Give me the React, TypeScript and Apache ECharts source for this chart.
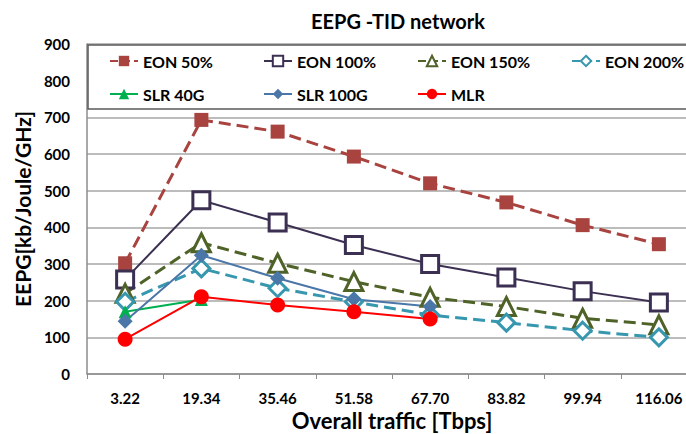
import React, { useEffect, useRef } from "react";
import * as echarts from "echarts";

const categories = ["3.22", "19.34", "35.46", "51.58", "67.70", "83.82", "99.94", "116.06"];
const eon50 = [302, 693, 661, 593, 520, 468, 406, 354];
const eon100 = [258, 474, 413, 352, 300, 263, 226, 195];
const eon150 = [220, 358, 302, 252, 209, 184, 152, 134];
const eon200 = [197, 288, 234, 197, 161, 140, 118, 100];
const slr40 = [170, 203, null, null, null, null, null, null];
const slr100 = [144, 324, 261, 204, 184, null, null, null];
const mlr = [95, 211, 188, 170, 150, null, null, null];

const FONT = "Lato";

export default function App() {
  const ref = useRef<HTMLDivElement>(null);
  useEffect(() => {
    const chart = echarts.init(ref.current!, null, { renderer: "svg" });
    const mk = (
      name: string,
      data: (number | null)[],
      color: string,
      symbol: string,
      symbolSize: number,
      lineType: string,
      lineWidth: number,
      hollow: boolean
    ) => ({
      name,
      type: "line",
      data,
      symbol,
      symbolSize,
      connectNulls: false,
      lineStyle: { color, width: lineWidth, type: lineType },
      itemStyle: hollow
        ? { color: "#ffffff", borderColor: color, borderWidth: 3 }
        : { color, borderColor: color, borderWidth: 0 },
    });
    chart.setOption({
      animation: false,
      backgroundColor: "#fff",
      title: {
        text: "EEPG -TID network",
        left: 393,
        top: 6,
        textAlign: "center",
        textStyle: { fontFamily: FONT, fontWeight: "bold", fontSize: 20, color: "#000" },
      },
      legend: {
        data: ["EON 50%", "EON 100%", "EON 150%", "EON 200%", "", "SLR 40G", "SLR 100G", "MLR"],
        left: 88,
        top: 45,
        width: 660,
        padding: [6, 14, 5, 21],
        itemGap: 13,
        itemWidth: 28,
        itemHeight: 13,
        backgroundColor: "#fff",
        borderColor: "#595959",
        borderWidth: 1.5,
        formatter: "{a|{name}}",
        textStyle: {
          fontFamily: FONT,
          fontWeight: "bold",
          fontSize: 16,
          color: "#000",
          rich: { a: { width: 107, height: 20, lineHeight: 20, fontFamily: FONT, fontWeight: "bold", fontSize: 16, color: "#000" } },
        },
      },
      grid: { left: 87, top: 44, width: 610, height: 330, containLabel: false, outerBoundsMode: "none" },
      xAxis: {
        type: "category",
        data: categories,
        boundaryGap: true,
        name: "Overall traffic [Tbps]",
        nameLocation: "middle",
        nameGap: 33,
        nameTextStyle: { fontFamily: FONT, fontWeight: "bold", fontSize: 22, color: "#000" },
        axisLine: { lineStyle: { color: "#8c8c8c", width: 1.5 } },
        axisTick: { show: true, length: 5, lineStyle: { color: "#8c8c8c" } },
        axisLabel: { fontFamily: FONT, fontWeight: "bold", fontSize: 15, color: "#000", margin: 16 },
      },
      yAxis: {
        type: "value",
        min: 0,
        max: 900,
        interval: 100,
        name: "EEPG[kb/Joule/GHz]",
        nameLocation: "middle",
        nameGap: 52,
        nameTextStyle: { fontFamily: FONT, fontWeight: "bold", fontSize: 21, color: "#000" },
        axisLine: { show: true, lineStyle: { color: "#8c8c8c", width: 1.5 } },
        axisTick: { show: false },
        axisLabel: { fontFamily: FONT, fontWeight: "bold", fontSize: 15, color: "#000", margin: 17 },
        splitLine: { lineStyle: { color: "#a6a6a6", width: 1.5 } },
      },
      series: [
        mk("EON 50%", eon50, "#A8433F", "rect", 14, "dashed", 3, false),
        mk("EON 100%", eon100, "#3B2F52", "rect", 17, "solid", 2, true),
        mk("EON 150%", eon150, "#4F6228", "triangle", 18, "dashed", 3, true),
        mk("EON 200%", eon200, "#3797AE", "diamond", 17, "dashed", 3, true),
        mk("SLR 40G", slr40, "#00B050", "triangle", 13, "solid", 2, false),
        mk("SLR 100G", slr100, "#4A76A8", "diamond", 15, "solid", 2, false),
        mk("MLR", mlr, "#FF0000", "circle", 15, "solid", 2, false),
      ],
    });
    return () => chart.dispose();
  }, []);
  return <div ref={ref} style={{ width: 686, height: 434, position: "absolute", left: 0, top: 0 }} />;
}
